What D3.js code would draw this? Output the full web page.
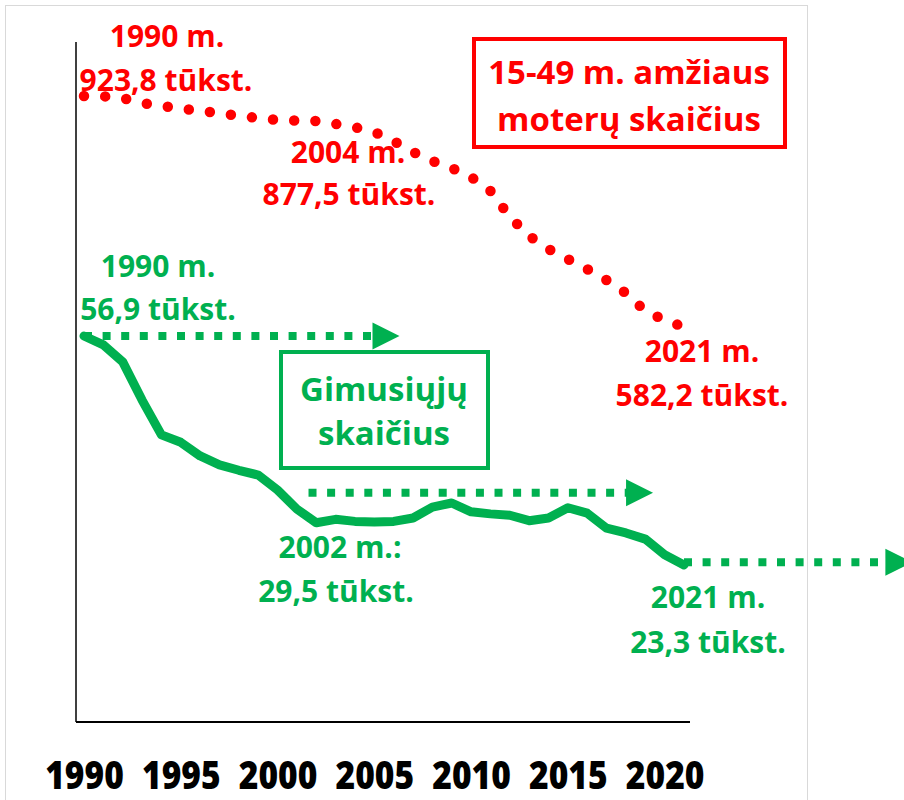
<!DOCTYPE html>
<html>
<head>
<meta charset="utf-8">
<script src="https://cdn.jsdelivr.net/npm/d3@7.9.0/dist/d3.min.js"></script>
<style>
  html, body { margin: 0; padding: 0; background: #fff; }
  svg { display: block; }
  text { font-family: "Open Sans", sans-serif; font-weight: 700; }
</style>
</head>
<body>
<svg id="chart" width="904" height="800"></svg>
<script>
const years = [1990, 1991, 1992, 1993, 1994, 1995, 1996, 1997, 1998, 1999,
  2000, 2001, 2002, 2003, 2004, 2005, 2006, 2007, 2008, 2009,
  2010, 2011, 2012, 2013, 2014, 2015, 2016, 2017, 2018, 2019,
  2020, 2021];

// 15-49 m. amžiaus moterys, tūkst.
const women = [923.8, 923.5, 920.8, 913.4, 909.0, 905.3, 901.6, 898.7, 894.2, 891.3,
  888.3, 887.6, 886.8, 882.4, 877.5, 870.5, 857.2, 841.0, 827.6, 817.3,
  804.0, 783.3, 745.5, 716.7, 697.5, 682.7, 667.9, 651.6, 632.4, 605.8,
  592.4, 582.2];

// gimusieji, tūkst.
const births = [56.9, 55.6, 53.1, 47.5, 42.4, 41.3, 39.3, 38.0, 37.2, 36.5,
  34.3, 31.5, 29.5, 30.0, 29.7, 29.6, 29.7, 30.2, 31.8, 32.4,
  31.1, 30.8, 30.6, 29.8, 30.2, 31.7, 30.9, 28.7, 28.0, 27.1,
  24.8, 23.3];

const tickYears = [1990, 1995, 2000, 2005, 2010, 2015, 2020];

// trend arrows: [from year, to year, births level]
const arrows = [
  [1990, 2006.3, 56.9],
  [2001.6, 2019.4, 33.9],
  [2021, 2032.8, 23.7]
];

const RED = "#ff0000";
const GREEN = "#00b050";

const svg = d3.select("#chart");

svg.append("rect")
  .attr("x", 5.5).attr("y", 5.5)
  .attr("width", 802).attr("height", 820)
  .attr("fill", "#fff")
  .attr("stroke", "#d9d9d9");

const x = d3.scaleLinear().domain([1990, 2021]).range([84, 684]);
const yRed = d3.scaleLinear().domain([582.2, 923.8]).range([327, 96]);
const yGreen = d3.scaleLinear().domain([23.3, 56.9]).range([565, 336]);

// axes lines
svg.append("line")
  .attr("x1", 76).attr("x2", 76).attr("y1", 42).attr("y2", 722)
  .attr("stroke", "#000").attr("stroke-width", 1.5);
svg.append("line")
  .attr("x1", 76).attr("x2", 690).attr("y1", 722).attr("y2", 722)
  .attr("stroke", "#000").attr("stroke-width", 2);

const xAxis = svg.append("g")
  .attr("transform", "translate(0,789)")
  .call(d3.axisBottom(x).tickValues(tickYears).tickFormat(d3.format("d")).tickSize(0).tickPadding(0));
xAxis.select(".domain").remove();
xAxis.selectAll("text")
  .attr("dy", 0)
  .attr("y", 0)
  .attr("x", 0)
  .attr("fill", "#000")
  .style("font-family", "'Open Sans', sans-serif")
  .style("font-weight", 800)
  .style("font-size", "39px")
  .attr("transform", "scale(0.86,1)");

// red dotted line
const redLine = d3.line().x((d, i) => x(years[i])).y(d => yRed(d));
svg.append("path")
  .datum(women)
  .attr("d", redLine)
  .attr("fill", "none")
  .attr("stroke", RED)
  .attr("stroke-width", 10.5)
  .attr("stroke-linecap", "round")
  .attr("stroke-dasharray", "0 21.2");

// green arrows
arrows.forEach(([a, b, v]) => {
  const yy = yGreen(v);
  const x0 = x(a), tip = x(b), head = 27;
  svg.append("line")
    .attr("x1", x0).attr("x2", tip - head + 2)
    .attr("y1", yy).attr("y2", yy)
    .attr("stroke", GREEN)
    .attr("stroke-width", 8)
    .attr("stroke-dasharray", "8 10.6");
  svg.append("path")
    .attr("d", `M${tip - head},${yy - 13.5}L${tip},${yy}L${tip - head},${yy + 13.5}Z`)
    .attr("fill", GREEN);
});

// green solid line
const greenLine = d3.line().x((d, i) => x(years[i])).y(d => yGreen(d));
svg.append("path")
  .datum(births)
  .attr("d", greenLine)
  .attr("fill", "none")
  .attr("stroke", GREEN)
  .attr("stroke-width", 9)
  .attr("stroke-linejoin", "round")
  .attr("stroke-linecap", "round");

// labels
const labels = [
  { t: "1990 m.", x: 167, y: 47, c: RED },
  { t: "923,8 tūkst.", x: 166, y: 91, c: RED },
  { t: "2004 m.", x: 348, y: 163, c: RED },
  { t: "877,5 tūkst.", x: 349, y: 205, c: RED },
  { t: "2021 m.", x: 702, y: 362, c: RED },
  { t: "582,2 tūkst.", x: 702, y: 406, c: RED },
  { t: "1990 m.", x: 158, y: 277, c: GREEN },
  { t: "56,9 tūkst.", x: 158, y: 320, c: GREEN },
  { t: "2002 m.:", x: 340, y: 558, c: GREEN },
  { t: "29,5 tūkst.", x: 336, y: 602, c: GREEN },
  { t: "2021 m.", x: 708, y: 608, c: GREEN },
  { t: "23,3 tūkst.", x: 708, y: 653, c: GREEN }
];
svg.append("g").selectAll("text")
  .data(labels)
  .join("text")
  .attr("x", d => d.x).attr("y", d => d.y)
  .attr("text-anchor", "middle")
  .attr("fill", d => d.c)
  .style("font-size", "30px")
  .text(d => d.t);

// legend boxes
function box(x0, y0, w, h, color, lines, cx, baselines) {
  svg.append("rect")
    .attr("x", x0).attr("y", y0).attr("width", w).attr("height", h)
    .attr("fill", "#fff")
    .attr("stroke", color)
    .attr("stroke-width", 4);
  lines.forEach((l, i) => {
    svg.append("text")
      .attr("x", cx).attr("y", baselines[i])
      .attr("text-anchor", "middle")
      .attr("fill", color)
      .style("font-size", "33px")
      .text(l);
  });
}
box(474, 39, 311, 108, RED, ["15-49 m. amžiaus", "moterų skaičius"], 629, [84, 131]);
box(281, 352, 207, 116, GREEN, ["Gimusiųjų", "skaičius"], 384, [401, 445]);
</script>
</body>
</html>
